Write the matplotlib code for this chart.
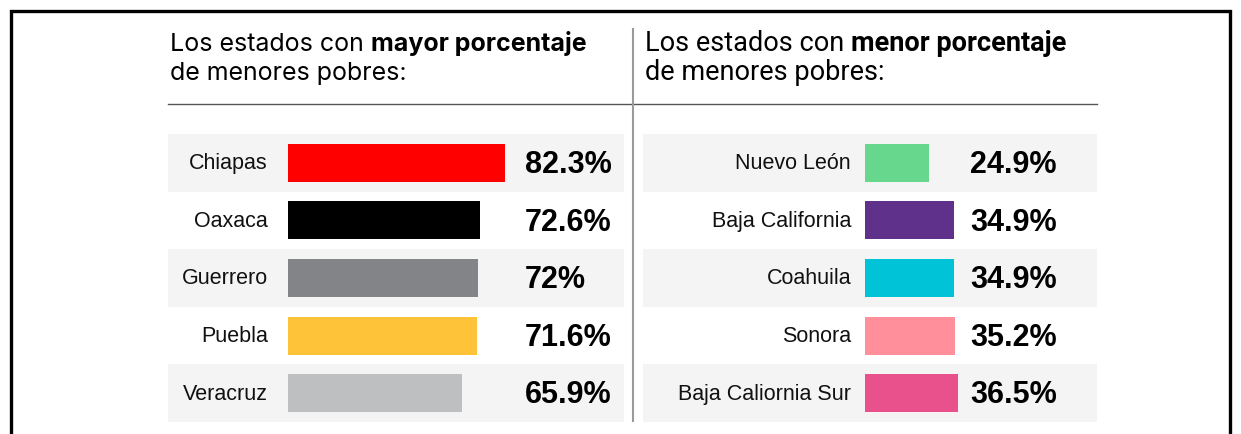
import matplotlib.pyplot as plt
from matplotlib.lines import Line2D

# datos
left_states = ["Chiapas", "Oaxaca", "Guerrero", "Puebla", "Veracruz"]
left_values = [82.3, 72.6, 72.0, 71.6, 65.9]
left_labels = ["82.3%", "72.6%", "72%", "71.6%", "65.9%"]
left_colors = ["#ff0000", "#000000", "#838487", "#fec338", "#bebfc1"]

right_states = ["Nuevo León", "Baja California", "Coahuila", "Sonora", "Baja Caliornia Sur"]
right_values = [24.9, 34.9, 34.9, 35.2, 36.5]
right_labels = ["24.9%", "34.9%", "34.9%", "35.2%", "36.5%"]
right_colors = ["#66d78c", "#5f318a", "#00c3d8", "#ff8f9b", "#e9518c"]

W, H = 1241, 435
fig = plt.figure(figsize=(W / 100, H / 100), dpi=100)


def rect(x0, y0, x1, y1):
    # pixeles de la imagen (origen arriba) -> fraccion de la figura
    return [x0 / W, 1 - y1 / H, (x1 - x0) / W, (y1 - y0) / H]


def panel(box, zero_px, scale, states, values, labels, colors, value_px, gap):
    x0, y0, x1, y1 = box
    ax = fig.add_axes(rect(x0, y0, x1, y1))
    ax.set_xlim(-(zero_px - x0) / scale, (x1 - zero_px) / scale)
    ax.set_ylim(len(states) - 0.5, -0.5)
    for i in range(len(states)):
        if i % 2 == 0:
            ax.axhspan(i - 0.5, i + 0.5, color="#f4f4f4", lw=0, zorder=0)
    ax.barh(range(len(states)), values, height=0.66, color=colors, zorder=2)
    for i, (s, lab) in enumerate(zip(states, labels)):
        ax.annotate(s, (0, i), xytext=(-gap, 0), textcoords="offset points",
                    ha="right", va="center", fontsize=15.5,
                    family="Liberation Sans", color="#111111")
        ax.text((value_px - x0) / (x1 - x0), i + 0.02, lab,
                transform=ax.get_yaxis_transform(), ha="left", va="center",
                fontsize=22, fontweight="bold", family="Liberation Sans")
    ax.axis("off")
    return ax


panel((168, 135, 624, 423), 288, 2.64, left_states, left_values, left_labels,
      left_colors, 525, 14.5)
panel((643, 135, 1097, 423), 865, 2.56, right_states, right_values, right_labels,
      right_colors, 970, 10)


def title(x, y, parts, family, size):
    r = fig.canvas.get_renderer()
    xp = x
    for txt, w in parts:
        t = fig.text(xp / W, 1 - y / H, txt, fontsize=size, fontweight=w,
                     family=family, ha="left", va="baseline")
        xp += t.get_window_extent(r).width


title(170, 51, [("Los estados con ", "normal"), ("mayor porcentaje", "bold")], "Inter", 18)
title(170, 80, [("de menores pobres:", "normal")], "Inter", 18)
title(645, 51, [("Los estados con ", "normal"), ("menor porcentaje", "bold")], "Roboto", 19.5)
title(645, 80, [("de menores pobres:", "normal")], "Roboto", 19.5)

# lineas divisorias y marco
fig.add_artist(Line2D([168 / W, 1097 / W], [1 - 105 / H] * 2, color="#555555", lw=1))
fig.add_artist(Line2D([633 / W] * 2, [1 - 30 / H, 1 - 422 / H], color="#9a9a9a", lw=1.5))
fig.add_artist(Line2D([11 / W, 11 / W, 1230 / W, 1230 / W], [0, 1 - 11.5 / H, 1 - 11.5 / H, 0],
                      color="black", lw=2.4, solid_joinstyle="miter"))

fig.savefig("out.png", dpi=100)
